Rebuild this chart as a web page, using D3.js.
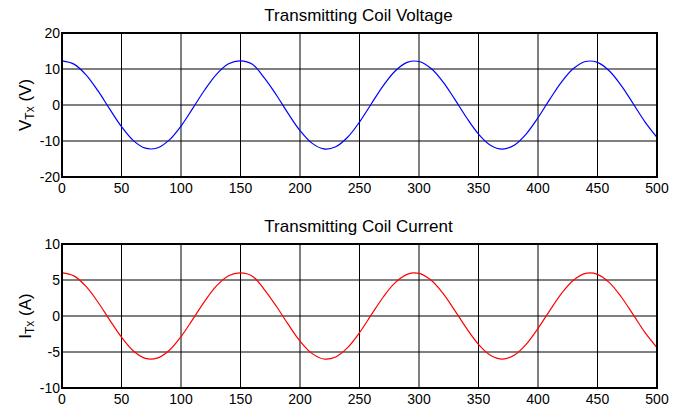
<!DOCTYPE html>
<html>
<head>
    <meta charset="utf-8">
    <title>Transmitting Coil</title>
    <script src="https://cdn.jsdelivr.net/npm/d3@7"></script>
    <style>
        body {
            margin: 0;
            background: white;
        }

        svg text {
            font-family: "Liberation Sans", Arial, Helvetica, sans-serif;
            fill: #000;
        }
    </style>
</head>
<body>
    <svg id="chart" width="684" height="407"></svg>
    <script>
        // sample times (x axis)
        const time = d3.range(0, 501, 10);

        // values, one per sample time
        const voltage = [
            12.24, 11.36, 8.46, 4.04, -1.09, -6.03, -9.90, -12.0, -11.95, -9.77,
            -5.85, -0.88, 4.23, 8.60, 11.44, 12.23, 11.29, 7.51, 2.84, -2.34,
            -7.10, -10.59, -12.19, -11.61, -8.97, -4.73, 0.36, 5.39, 9.45, 11.83,
            12.09, 10.19, 6.49, 1.62, -3.54, -8.07, -11.16, -12.25, -11.16, -8.07,
            -3.54, 1.62, 6.49, 10.19, 12.09, 11.83, 9.45, 5.39, 0.36, -4.73,
            -8.97
        ];

        const current = [
            5.99, 5.57, 4.14, 1.98, -0.54, -2.95, -4.85, -5.88, -5.85, -4.79,
            -2.86, -0.43, 2.07, 4.21, 5.60, 5.99, 5.53, 3.68, 1.39, -1.14,
            -3.48, -5.19, -5.97, -5.69, -4.40, -2.32, 0.18, 2.64, 4.63, 5.79,
            5.92, 4.99, 3.18, 0.79, -1.73, -3.95, -5.46, -6.0, -5.46, -3.95,
            -1.73, 0.79, 3.18, 4.99, 5.92, 5.79, 4.63, 2.64, 0.18, -2.32,
            -4.40
        ];

        const xTicks = [0, 50, 100, 150, 200, 250, 300, 350, 400, 450, 500];
        const voltageTicks = [-20, -10, 0, 10, 20];
        const currentTicks = [-10, -5, 0, 5, 10];

        const svg = d3.select("#chart");

        const left = 62, right = 657;

        function drawPanel(opts) {
            const x = d3.scaleLinear().domain([0, 500]).range([left, right]);
            const y = d3.scaleLinear().domain(opts.yDomain).range([opts.bottom, opts.top]);
            const g = svg.append("g");

            // grid
            g.selectAll(".vgrid")
                .data(xTicks.slice(1, -1))
                .enter()
                .append("line")
                .attr("x1", d => x(d)).attr("x2", d => x(d))
                .attr("y1", opts.top).attr("y2", opts.bottom)
                .attr("stroke", "#000")
                .attr("stroke-width", 1);

            g.selectAll(".hgrid")
                .data(opts.yTicks.slice(1, -1))
                .enter()
                .append("line")
                .attr("x1", left).attr("x2", right)
                .attr("y1", d => y(d)).attr("y2", d => y(d))
                .attr("stroke", "#000")
                .attr("stroke-width", 1);

            // the curve
            const line = d3.line()
                .x((d, i) => x(time[i]))
                .y(d => y(d))
                .curve(d3.curveCatmullRom);

            g.append("path")
                .datum(opts.values)
                .attr("d", line)
                .attr("fill", "none")
                .attr("stroke", opts.color)
                .attr("stroke-width", 1.2);

            // box
            g.append("rect")
                .attr("x", left).attr("y", opts.top)
                .attr("width", right - left).attr("height", opts.bottom - opts.top)
                .attr("fill", "none")
                .attr("stroke", "#000")
                .attr("stroke-width", 2);

            // tick labels
            g.selectAll(".xlab")
                .data(xTicks)
                .enter()
                .append("text")
                .attr("x", d => x(d))
                .attr("y", opts.bottom + 16)
                .attr("text-anchor", "middle")
                .attr("font-size", 14)
                .text(d => d);

            g.selectAll(".ylab")
                .data(opts.yTicks)
                .enter()
                .append("text")
                .attr("x", left - 2)
                .attr("y", d => y(d) + 5)
                .attr("text-anchor", "end")
                .attr("font-size", 14)
                .text(d => d);

            // title
            g.append("text")
                .attr("x", (left + right) / 2 - 1)
                .attr("y", opts.top - 12)
                .attr("text-anchor", "middle")
                .attr("font-size", 17)
                .text(opts.title);

            // y label with subscript
            const yl = g.append("text")
                .attr("transform", `translate(31,${(opts.top + opts.bottom) / 2}) rotate(-90)`)
                .attr("text-anchor", "middle")
                .attr("font-size", 17);
            yl.append("tspan").text(opts.sym);
            yl.append("tspan").attr("font-size", 12).attr("dy", 3).text("Tx");
            yl.append("tspan").attr("dy", -3).text(" (" + opts.unit + ")");
        }

        drawPanel({
            top: 33, bottom: 177, yDomain: [-20, 20], yTicks: voltageTicks,
            values: voltage, color: "#0000ff",
            title: "Transmitting Coil Voltage", sym: "V", unit: "V"
        });

        drawPanel({
            top: 244, bottom: 388, yDomain: [-10, 10], yTicks: currentTicks,
            values: current, color: "#ff0000",
            title: "Transmitting Coil Current", sym: "I", unit: "A"
        });
    </script>
</body>
</html>
